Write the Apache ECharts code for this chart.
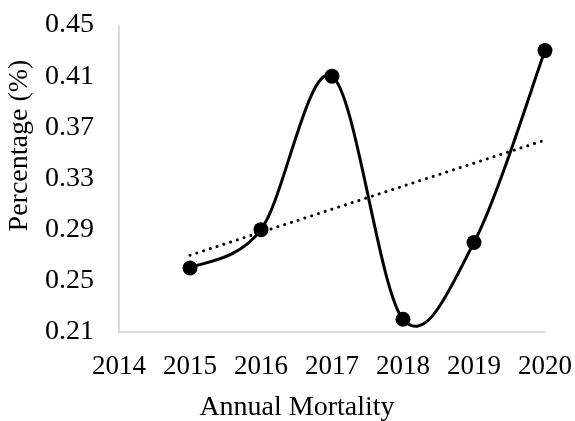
<!DOCTYPE html>
<html>
<head>
<meta charset="utf-8">
<script src="https://cdn.jsdelivr.net/npm/echarts@6/dist/echarts.min.js"></script>
<style>
  html, body { margin: 0; padding: 0; background: #fff; }
  #chart { width: 575px; height: 421px; }
</style>
</head>
<body>
<div id="chart"></div>
<script>
// data
const years = [2015, 2016, 2017, 2018, 2019, 2020];
const mortality = [0.26, 0.29, 0.41, 0.22, 0.28, 0.43];
// linear trendline end points
const trendYears = [2015, 2020];
const trendValues = [0.27, 0.36];
const yTicks = [0.21, 0.25, 0.29, 0.33, 0.37, 0.41, 0.45];
const xTicks = [2014, 2015, 2016, 2017, 2018, 2019, 2020];

var chart = echarts.init(document.getElementById("chart"));
const font = "'Liberation Serif', 'Times New Roman', serif";
const points = years.map((y, i) => [y, mortality[i]]);

// Excel-like smoothed line: catmull-rom segments drawn as bezier curves
function renderSegment(params, api) {
  const i = params.dataIndex;
  const n = points.length;
  if (i >= n - 1) return null;
  const p0 = api.coord(points[Math.max(i - 1, 0)]);
  const p1 = api.coord(points[i]);
  const p2 = api.coord(points[i + 1]);
  const p3 = api.coord(points[Math.min(i + 2, n - 1)]);
  return {
    type: "bezierCurve",
    shape: {
      x1: p1[0], y1: p1[1],
      x2: p2[0], y2: p2[1],
      cpx1: p1[0] + (p2[0] - p0[0]) / 6,
      cpy1: p1[1] + (p2[1] - p0[1]) / 6,
      cpx2: p2[0] - (p3[0] - p1[0]) / 6,
      cpy2: p2[1] - (p3[1] - p1[1]) / 6,
    },
    style: { stroke: "#000", lineWidth: 3, fill: null },
  };
}

const option = {
  animation: false,
  grid: { left: 119, right: 30, top: 25, bottom: 89, outerBoundsMode: "none" },
  xAxis: {
    type: "value",
    min: 2014,
    max: 2020,
    interval: 1,
    name: "Annual Mortality",
    nameLocation: "middle",
    nameGap: 62,
    nameTextStyle: {
      fontFamily: font, fontSize: 28, color: "#000",
      padding: [0, 70, 0, 0],
    },
    axisLine: { lineStyle: { color: "#cfcfcf", width: 1.5 } },
    axisTick: { show: false },
    splitLine: { show: false },
    axisLabel: {
      customValues: xTicks,
      margin: 21,
      fontFamily: font, fontSize: 27, color: "#000",
      formatter: (v) => String(v),
    },
  },
  yAxis: {
    type: "value",
    min: 0.21,
    max: 0.45,
    name: "Percentage (%)",
    nameLocation: "middle",
    nameGap: 84,
    nameTextStyle: {
      fontFamily: font, fontSize: 28, color: "#000",
      padding: [0, 0, 0, 66],
    },
    axisLine: { show: true, lineStyle: { color: "#cfcfcf", width: 1.5 } },
    axisTick: { show: false },
    splitLine: { show: false },
    axisLabel: {
      customValues: yTicks,
      margin: 25,
      fontFamily: font, fontSize: 28, color: "#000",
      formatter: (v) => v.toFixed(2),
    },
  },
  series: [
    {
      name: "Curve",
      type: "custom",
      renderItem: renderSegment,
      data: points,
      z: 3,
    },
    {
      name: "Mortality",
      type: "scatter",
      data: points,
      symbol: "circle",
      symbolSize: 15,
      itemStyle: { color: "#000", opacity: 1 },
      z: 4,
    },
    {
      name: "Trend",
      type: "line",
      data: trendYears.map((y, i) => [y, trendValues[i]]),
      showSymbol: false,
      lineStyle: { color: "#000", width: 3, type: [0.1, 7], cap: "round" },
      z: 2,
    },
  ],
};
chart.setOption(option);
</script>
</body>
</html>
